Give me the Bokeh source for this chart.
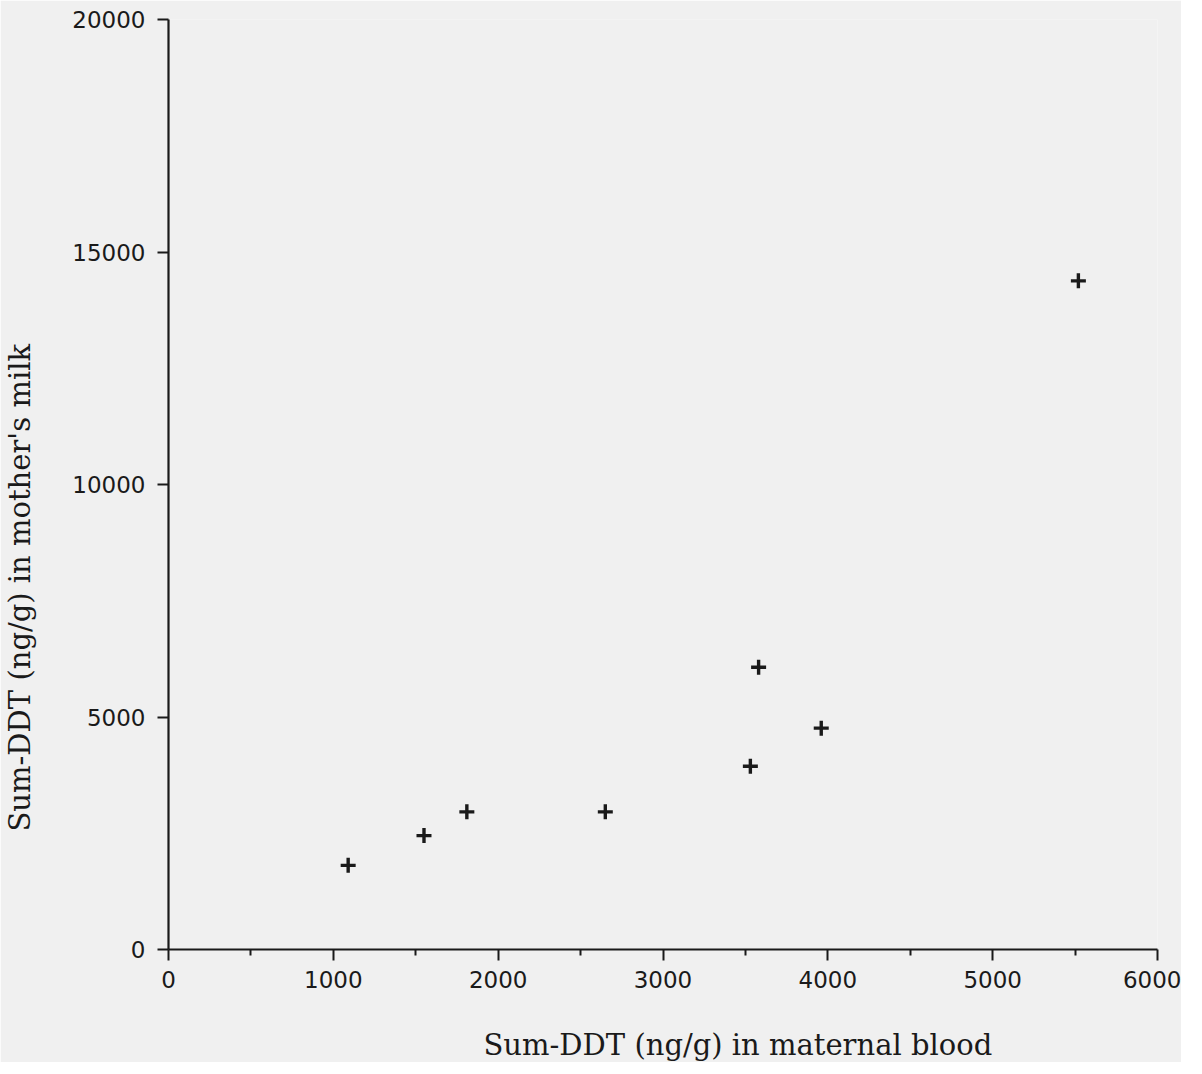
from bokeh.plotting import figure
from bokeh.models import FixedTicker, Range1d, ColumnDataSource, Title
from bokeh.embed import file_html
from bokeh.resources import INLINE

# Data (ng/g)
blood = [1090, 1550, 1810, 2650, 3530, 3580, 3960, 5520]
milk = [1810, 2450, 2960, 2960, 3940, 6070, 4760, 14380]

x_ticks = [0, 1000, 2000, 3000, 4000, 5000, 6000]
x_minor = [500, 1500, 2500, 3500, 4500, 5500]
y_ticks = [0, 5000, 10000, 15000, 20000]

x_title = "Sum-DDT (ng/g) in maternal blood"
y_title = "Sum-DDT (ng/g) in mother's milk"

bg = "#f0f0f0"
ink = "#1a1a1a"

p = figure(
    frame_width=989, frame_height=930,
    x_range=Range1d(0, 6000), y_range=Range1d(0, 20000),
    output_backend="svg", toolbar_location=None,
    min_border_left=168, min_border_top=19, min_border_right=24, min_border_bottom=100,
    background_fill_color=bg, border_fill_color=bg,
)
p.outline_line_color = None
p.xgrid.grid_line_color = None
p.ygrid.grid_line_color = None

src = ColumnDataSource(dict(x=blood, y=milk))
p.scatter("x", "y", source=src, marker="cross", size=15, line_width=3.4, line_color=ink)

for ax in (p.xaxis[0], p.yaxis[0]):
    ax.axis_line_color = ink
    ax.axis_line_width = 2.2
    ax.major_tick_line_color = ink
    ax.major_tick_line_width = 2
    ax.minor_tick_line_color = ink
    ax.minor_tick_line_width = 2
    ax.major_tick_in = 0
    ax.minor_tick_in = 0
    ax.major_tick_out = 11
    ax.minor_tick_out = 6
    ax.major_label_text_font = "DejaVu Sans"
    ax.major_label_text_font_size = "23px"
    ax.major_label_text_color = ink

p.xaxis[0].ticker = FixedTicker(ticks=x_ticks, minor_ticks=x_minor)
p.yaxis[0].ticker = FixedTicker(ticks=y_ticks, minor_ticks=[])
p.xaxis[0].major_label_standoff = 10
p.yaxis[0].major_label_standoff = 12

common = dict(text_font="DejaVu Serif", text_font_size="29px", text_color=ink,
              text_font_style="normal", align="left")
# an empty extra line pushes each title away from its axis
p.add_layout(Title(text="\n" + x_title, offset=315, standoff=2, vertical_align="bottom",
                   text_line_height=1.0, **common), "below")
p.add_layout(Title(text=y_title + "\n", offset=118, standoff=0, vertical_align="top",
                   text_line_height=0.92, **common), "left")

open("out.html", "w").write(file_html(p, INLINE))
